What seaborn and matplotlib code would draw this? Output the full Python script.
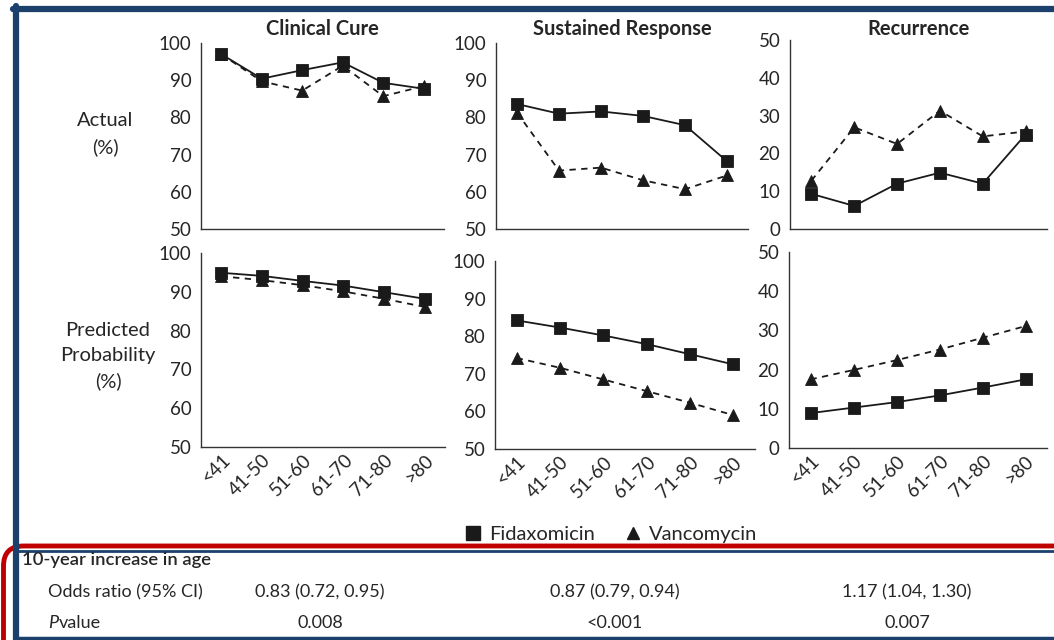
import numpy as np
import pandas as pd
import matplotlib
matplotlib.use("Agg")
import matplotlib.pyplot as plt
from matplotlib.lines import Line2D
from matplotlib.patches import FancyBboxPatch
from matplotlib.transforms import ScaledTranslation
import seaborn as sns

# ---------------- data ----------------
age_groups = ['<41', '41-50', '51-60', '61-70', '71-80', '>80']
drugs = ['Fidaxomicin', 'Vancomycin']
outcomes = ['Clinical Cure', 'Sustained Response', 'Recurrence']

cc_actual_fid = [97.0, 90.4, 92.7, 94.8, 89.3, 87.7]
cc_actual_van = [97.0, 89.7, 87.2, 93.9, 85.7, 88.4]
sr_actual_fid = [83.6, 81.0, 81.6, 80.4, 77.9, 68.2]
sr_actual_van = [81.3, 65.7, 66.5, 63.1, 60.7, 64.4]
rc_actual_fid = [9.3, 6.1, 12.0, 14.9, 12.0, 25.0]
rc_actual_van = [12.8, 26.9, 22.5, 31.3, 24.5, 25.8]

cc_pred_fid = [94.9, 94.1, 92.8, 91.6, 89.9, 88.2]
cc_pred_van = [94.0, 93.0, 91.7, 90.1, 88.2, 86.1]
sr_pred_fid = [84.2, 82.3, 80.2, 77.9, 75.2, 72.5]
sr_pred_van = [74.2, 71.6, 68.5, 65.4, 62.3, 59.0]
rc_pred_fid = [8.9, 10.3, 11.7, 13.4, 15.4, 17.5]
rc_pred_van = [17.5, 19.9, 22.4, 25.1, 28.1, 31.1]

table_heading = '10-year increase in age'
odds_ratios = ['0.83 (0.72, 0.95)', '0.87 (0.79, 0.94)', '1.17 (1.04, 1.30)']
p_values = ['0.008', '<0.001', '0.007']

# ---------------- style ----------------
sns.set_style("white")
FONT = ['Lato', 'DejaVu Sans']
plt.rcParams['font.family'] = FONT
TXT = '#262626'
INK = '#1a1a1a'
BLUE = '#1b406c'
RED = '#c00000'

W, H = 1054, 640
fig = plt.figure(figsize=(W / 100, H / 100), dpi=100)
fig.patch.set_facecolor('white')


def px_axes(l, t, r, b):
    return fig.add_axes([l / W, 1 - b / H, (r - l) / W, (b - t) / H])


def make_df(fid, van):
    rows = []
    for d, vals in zip(drugs, [fid, van]):
        for i, (a, v) in enumerate(zip(age_groups, vals)):
            rows.append({'age': a, 'pos': i, 'drug': d, 'value': v})
    return pd.DataFrame(rows)


TICK_FS = 13.5
panels = [
    ((201, 43, 444, 229), cc_actual_fid, cc_actual_van, (50, 100), outcomes[0], False),
    ((496, 43, 748, 229), sr_actual_fid, sr_actual_van, (50, 100), outcomes[1], False),
    ((790, 40, 1047, 229), rc_actual_fid, rc_actual_van, (0, 50), outcomes[2], False),
    ((201, 253, 445, 447), cc_pred_fid, cc_pred_van, (50, 100), None, True),
    ((495, 261, 755, 449), sr_pred_fid, sr_pred_van, (50, 100), None, True),
    ((789, 252, 1047, 448), rc_pred_fid, rc_pred_van, (0, 50), None, True),
]

shift = ScaledTranslation(4 / 100, 0, fig.dpi_scale_trans)

for box, fid, van, ylim, title, show_x in panels:
    ax = px_axes(*box)
    df = make_df(fid, van)
    sns.lineplot(data=df, x='pos', y='value', hue='drug', style='drug',
                 hue_order=['Vancomycin', 'Fidaxomicin'],
                 style_order=['Vancomycin', 'Fidaxomicin'],
                 palette={'Fidaxomicin': INK, 'Vancomycin': INK},
                 markers={'Fidaxomicin': 's', 'Vancomycin': '^'},
                 dashes={'Fidaxomicin': '', 'Vancomycin': (3.5, 3)},
                 markersize=8.5, markeredgewidth=0.6, markeredgecolor=INK,
                 linewidth=1.3, sort=False, legend=False, ax=ax)
    ax.set_xlim(-0.5, len(age_groups) - 0.5)
    ax.set_ylim(*ylim)
    ax.set_yticks(np.arange(ylim[0], ylim[1] + 1, 10))
    ax.set_xticks(np.arange(-0.5, len(age_groups), 1.0))
    ax.set_xticklabels([])
    ax.set_xticks(np.arange(len(age_groups)), minor=True)
    if show_x:
        ax.set_xticklabels(age_groups, minor=True, rotation=45, ha='right',
                           va='top', rotation_mode='anchor', fontsize=TICK_FS,
                           color=TXT)
        for lab in ax.get_xticklabels(minor=True):
            lab.set_transform(lab.get_transform() + shift)
    ax.tick_params(axis='x', which='minor', length=0, pad=3)
    ax.tick_params(axis='x', which='major', length=5, width=1, color='#333333',
                   direction='out')
    ax.tick_params(axis='y', length=5, width=1, color='#333333', direction='out',
                   labelsize=TICK_FS, labelcolor=TXT, pad=2)
    ax.set_xlabel('')
    ax.set_ylabel('')
    for s in ['top', 'right']:
        ax.spines[s].set_visible(False)
    for s in ['left', 'bottom']:
        ax.spines[s].set_color('#333333')
        ax.spines[s].set_linewidth(1.0)
    ax.set_facecolor('none')
    if title:
        cx = (box[0] + box[2]) / 2
        fig.text(cx / W, 1 - 29 / H, title, ha='center', va='center',
                 fontsize=14.5, fontweight='bold', color=TXT)

# row labels
fig.text(105 / W, 1 - 134 / H, 'Actual\n(%)', ha='center', va='center',
         fontsize=14.5, color=TXT, linespacing=1.6)
fig.text(108 / W, 1 - 356 / H, 'Predicted\nProbability\n(%)', ha='center',
         va='center', fontsize=14.5, color=TXT, linespacing=1.55)

# legend
handles = [Line2D([], [], linestyle='none', marker='s', markersize=10,
                  color=INK, label='Fidaxomicin'),
           Line2D([], [], linestyle='none', marker='^', markersize=9,
                  color=INK, label='Vancomycin')]
fig.legend(handles=handles, loc='center', bbox_to_anchor=(610 / W, 1 - 534 / H),
           ncol=2, frameon=False, fontsize=14.5, handletextpad=0.3,
           columnspacing=1.4, handlelength=1.0, labelcolor=TXT)

# frame decorations
fig.add_artist(Line2D([13 / W, 1], [1 - 9 / H, 1 - 9 / H], color=BLUE, lw=4.5))
fig.add_artist(Line2D([16 / W, 16 / W], [1 - 6 / H, 0], color=BLUE, lw=4.5))
fig.add_artist(Line2D([16 / W, 1], [1 - 638 / H, 1 - 638 / H], color=BLUE, lw=2.5))
fig.add_artist(Line2D([16 / W, 1], [1 - 551 / H, 1 - 551 / H], color=BLUE, lw=2.0))
red = FancyBboxPatch((0.035, -1.0), 12, (640 - 546) / 100 + 1.0,
                     boxstyle='round,pad=0,rounding_size=0.2',
                     transform=fig.dpi_scale_trans, fill=False,
                     edgecolor=RED, linewidth=3.5, clip_on=False)
fig.add_artist(red)

# table
TAB_FS = 13
fig.text(22 / W, 1 - 560 / H, table_heading, ha='left', va='center',
         fontsize=13.3, color=TXT, fontweight='semibold')
fig.text(48 / W, 1 - 592 / H, 'Odds ratio (95% CI)', ha='left', va='center',
         fontsize=TAB_FS, color=TXT)
fig.text(48 / W, 1 - 623 / H, 'P', ha='left', va='center',
         fontsize=TAB_FS, color=TXT, style='italic')
fig.text(59 / W, 1 - 623 / H, 'value', ha='left', va='center',
         fontsize=TAB_FS, color=TXT)
centers = [320, 615, 907]
for cx, orv, pv in zip(centers, odds_ratios, p_values):
    fig.text(cx / W, 1 - 592 / H, orv, ha='center', va='center',
             fontsize=TAB_FS, color=TXT)
    fig.text(cx / W, 1 - 623 / H, pv, ha='center', va='center',
             fontsize=TAB_FS, color=TXT)

fig.savefig('out.png', dpi=100)
